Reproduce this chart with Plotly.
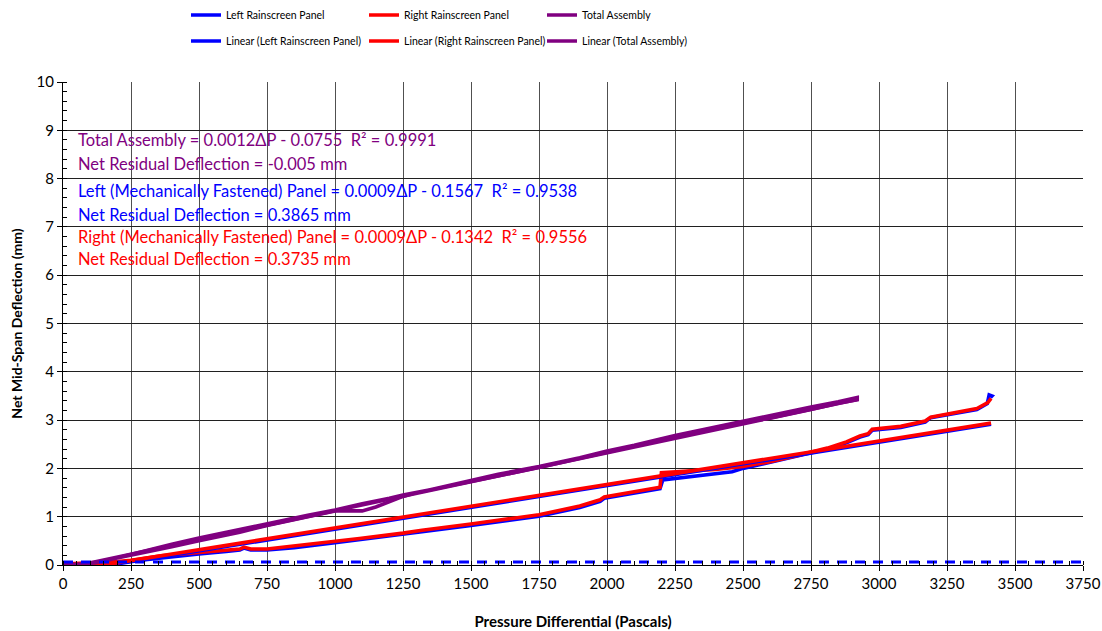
import plotly.graph_objects as go

# ---------------- data ----------------
left_x = [0, 100, 200, 250, 360, 500, 600, 650, 665, 690, 750, 850, 1000, 1090, 1250, 1290, 1320,
          1500, 1750, 1900, 1975, 1990, 2120, 2195, 2205, 2300, 2400, 2460, 2500, 2600, 2710, 2810,
          2880, 2930, 2960, 2975, 3080, 3170, 3190, 3250, 3360, 3398, 3405, 3415, 3410]
left_y = [0.01, 0.02, 0.05, 0.08, 0.16, 0.23, 0.28, 0.31, 0.35, 0.31, 0.31, 0.36, 0.46, 0.52, 0.63, 0.67,
          0.69, 0.82, 1.01, 1.19, 1.32, 1.38, 1.50, 1.58, 1.76, 1.82, 1.88, 1.93, 2.00, 2.13, 2.26, 2.40,
          2.53, 2.65, 2.70, 2.79, 2.85, 2.96, 3.05, 3.11, 3.22, 3.34, 3.52, 3.50, 3.47]

right_x = [0, 100, 200, 250, 360, 500, 600, 650, 665, 690, 750, 850, 1000, 1090, 1250, 1290, 1320,
           1500, 1750, 1900, 1975, 1990, 2120, 2195, 2200, 2300, 2400, 2500, 2600, 2710, 2810,
           2880, 2930, 2960, 2975, 3080, 3170, 3190, 3250, 3360, 3400, 3412]
right_y = [0.02, 0.04, 0.07, 0.10, 0.19, 0.26, 0.31, 0.33, 0.37, 0.33, 0.33, 0.39, 0.49, 0.55, 0.66, 0.70,
           0.72, 0.85, 1.04, 1.22, 1.35, 1.41, 1.53, 1.61, 1.91, 1.94, 1.98, 2.04, 2.14, 2.28, 2.42,
           2.55, 2.67, 2.72, 2.81, 2.87, 2.98, 3.06, 3.12, 3.24, 3.36, 3.45]

total_x = [0, 80, 150, 200, 300, 400, 500, 600, 700, 750, 800, 900, 1000, 1100, 1200, 1250, 1350,
           1500, 1600, 1750, 1900, 2000, 2100, 2250, 2400, 2500, 2650, 2750, 2850, 2920,
           2920, 2850, 2750, 2600, 2500, 2400, 2250, 2000, 1750, 1500, 1300, 1250, 1150, 1100,
           1050, 1000, 900, 750, 650, 550, 500, 400, 300, 200, 100, 0]
total_y = [0.00, 0.02, 0.08, 0.15, 0.30, 0.43, 0.56, 0.68, 0.80, 0.86, 0.92, 1.03, 1.14, 1.27, 1.38, 1.45,
           1.56, 1.76, 1.88, 2.04, 2.22, 2.36, 2.48, 2.68, 2.86, 2.98, 3.15, 3.27, 3.38, 3.47,
           3.42, 3.35, 3.22, 3.04, 2.95, 2.82, 2.65, 2.33, 2.02, 1.73, 1.50, 1.42, 1.20, 1.12,
           1.12, 1.12, 1.00, 0.82, 0.68, 0.55, 0.50, 0.38, 0.26, 0.14, 0.03, 0.00]

# linear trendline end points (from the equations shown on the chart)
left_fit_x = [0, 3412]
left_fit_y = [-0.157, 2.914]
right_fit_x = [0, 3412]
right_fit_y = [-0.134, 2.937]
total_fit_x = [0, 2920]
total_fit_y = [-0.076, 3.428]

# dashed reference line near zero
ref_x = [0, 3750]
ref_y = [0.06, 0.06]

x_ticks = [0, 250, 500, 750, 1000, 1250, 1500, 1750, 2000, 2250, 2500, 2750, 3000, 3250, 3500, 3750]
y_ticks = [0, 1, 2, 3, 4, 5, 6, 7, 8, 9, 10]

annotation_lines = [
    ("Total Assembly = 0.0012ΔP - 0.0755\u00a0 R² = 0.9991", 8.80, "#800080"),
    ("Net Residual Deflection = -0.005 mm", 8.30, "#800080"),
    ("Left (Mechanically Fastened) Panel = 0.0009ΔP - 0.1567\u00a0 R² = 0.9538", 7.74, "#0000FF"),
    ("Net Residual Deflection = 0.3865 mm", 7.25, "#0000FF"),
    ("Right (Mechanically Fastened) Panel = 0.0009ΔP - 0.1342\u00a0 R² = 0.9556", 6.79, "#FF0000"),
    ("Net Residual Deflection = 0.3735 mm", 6.34, "#FF0000"),
]

BLUE = "#0000FF"
RED = "#FF0000"
PURPLE = "#800080"
FONT = "Lato"

fig = go.Figure()

def add(x, y, name, color, legend, width=3.6, dash=None, showlegend=True):
    fig.add_trace(go.Scatter(
        x=x, y=y, name=name, mode="lines",
        line=dict(color=color, width=width, dash=dash),
        legend=legend, showlegend=showlegend))

add(left_x, left_y, "Left Rainscreen Panel", BLUE, "legend")
add(right_x, right_y, "Right Rainscreen Panel", RED, "legend")
add(total_x, total_y, "Total Assembly", PURPLE, "legend")
add(left_fit_x, left_fit_y, "Linear (Left Rainscreen Panel)", BLUE, "legend2")
add(right_fit_x, right_fit_y, "Linear (Right Rainscreen Panel)", RED, "legend2")
add(total_fit_x, total_fit_y, "Linear (Total Assembly)", PURPLE, "legend2")
add(ref_x, ref_y, "ref", BLUE, "legend", width=3, dash="10px,8px", showlegend=False)

for text, yv, col in annotation_lines:
    fig.add_annotation(x=48, y=yv, xref="x", yref="y", text=text, showarrow=False,
                       xanchor="left", yanchor="middle",
                       font=dict(family=FONT, size=16.5, color=col))

legend_common = dict(orientation="h", xanchor="left", yanchor="middle",
                     entrywidth=133, entrywidthmode="pixels",
                     font=dict(family=FONT, size=10.5, color="#000"),
                     bgcolor="rgba(0,0,0,0)", itemwidth=30, tracegroupgap=0)

fig.update_layout(
    width=1102, height=631,
    margin=dict(l=63, r=19, t=82, b=66, autoexpand=False),
    paper_bgcolor="white", plot_bgcolor="white",
    font=dict(family=FONT, size=14, color="#000"),
    legend=dict(x=(186 - 63) / 1020, y=(565 - 15) / 483, **legend_common),
    legend2=dict(x=(186 - 63) / 1020, y=(565 - 41) / 483, **legend_common),
    xaxis=dict(
        range=[0, 3750], tickvals=x_ticks, ticktext=[str(v) for v in x_ticks],
        showgrid=True, gridcolor="#505050", gridwidth=1,
        showline=True, linecolor="#000", linewidth=1,
        ticks="outside", ticklen=5, tickcolor="#000",
        minor=dict(dtick=50, ticks="inside", ticklen=4, tickcolor="#000", showgrid=False),
        zeroline=False, tickfont=dict(family=FONT, size=15),
        title=dict(text="<b>Pressure Differential (Pascals)</b>", font=dict(family=FONT, size=15), standoff=25),
    ),
    yaxis=dict(
        range=[0, 10], tickvals=y_ticks, ticktext=[str(v) for v in y_ticks],
        showgrid=True, gridcolor="#202020", gridwidth=1,
        showline=True, linecolor="#000", linewidth=1,
        ticks="outside", ticklen=5, tickcolor="#000",
        minor=dict(dtick=0.2, ticks="inside", ticklen=4, tickcolor="#000", showgrid=False),
        zeroline=False, tickfont=dict(family=FONT, size=15),
        title=dict(text="<b>Net Mid-Span Deflection (mm)</b>", font=dict(family=FONT, size=14), standoff=10),
    ),
)

fig.write_html("out.html", config={"displayModeBar": False},
               post_script="document.body.style.margin='0px';")
